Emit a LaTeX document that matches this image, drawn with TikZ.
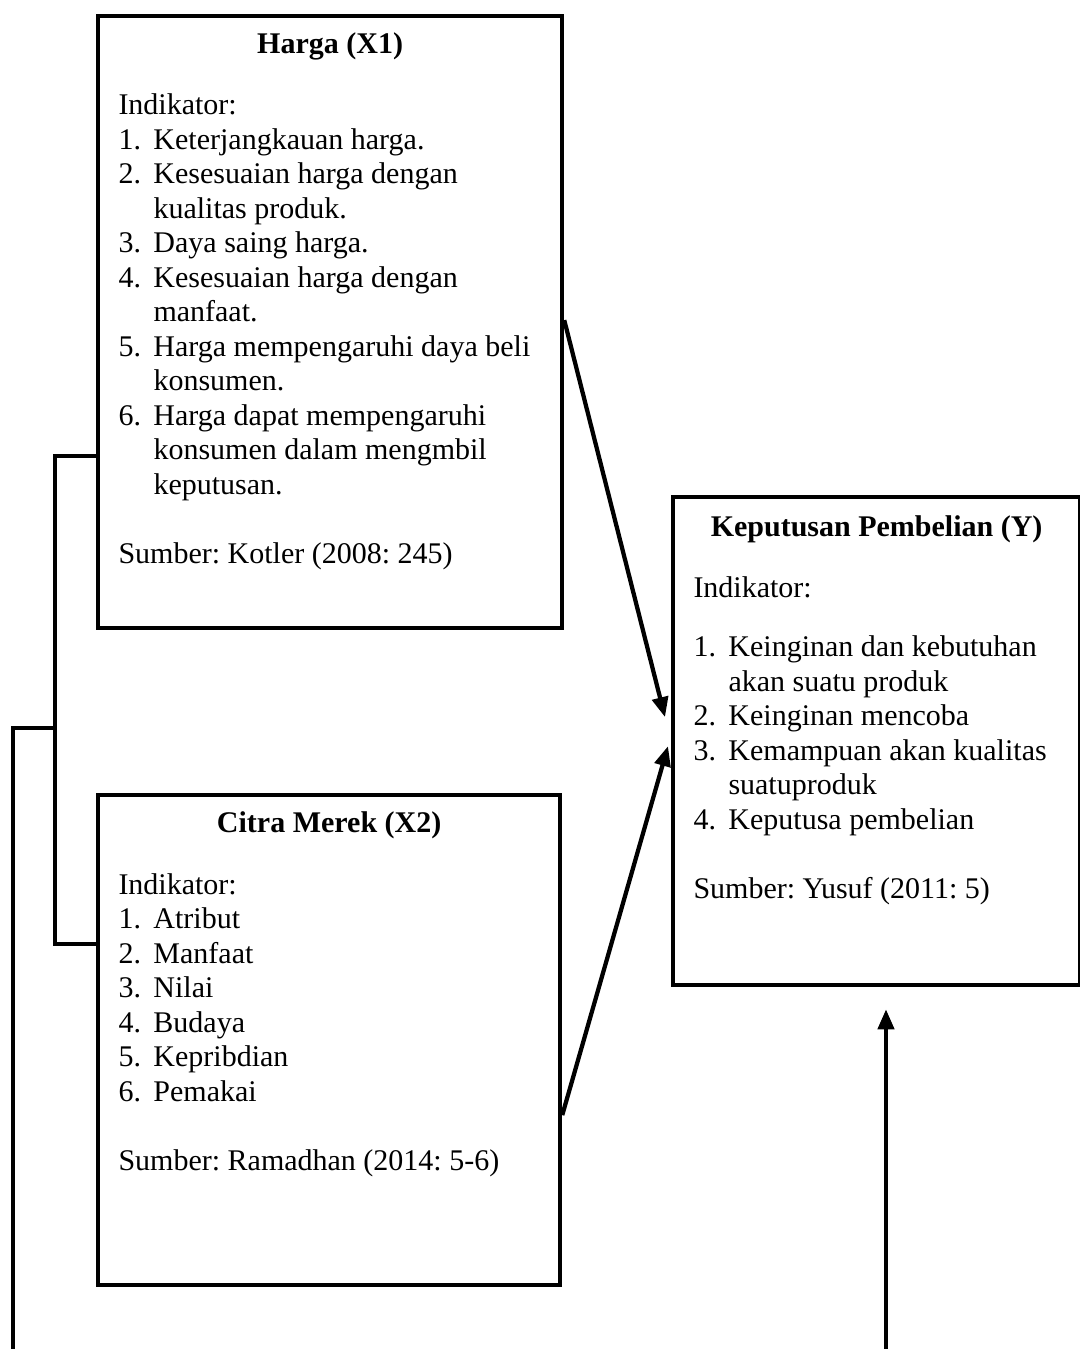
\documentclass[tikz,border=0pt]{standalone}
\usepackage{fontspec}
\setmainfont{Liberation Serif}
\usetikzlibrary{arrows.meta, positioning, calc}
\frenchspacing

\newcommand{\itm}[2]{\makebox[14pt][l]{#1.}#2}
\newcommand{\cont}[1]{\hspace*{14pt}#1}

\begin{document}
\begin{tikzpicture}[x=0.4pt, y=-0.4pt,
    box/.style={draw, line width=1.7pt, inner sep=0pt, anchor=north west},
    head/.style={font=\bfseries\fontsize{12}{13.8}\selectfont, inner sep=0pt, anchor=base},
    body/.style={font=\fontsize{12}{13.8}\selectfont, align=left, inner sep=0pt, anchor=base west},
    link/.style={line width=1.7pt},
    arr/.style={line width=1.7pt, -{Triangle[length=8pt, width=6.4pt]}}]
    \useasboundingbox (0,0) rectangle (1080,1349);

    % Box X1 (text node sits on its last line)
    \node[box, minimum width=185.6pt, minimum height=244.8pt] (harga) at (96,14) {};
    \node[head] (hargatitle) at ($(harga.north)+(0,39)$) {Harga (X1)};
    \node[body] (hargatext) at ($(harga.north west)+(22,549)$) {Indikator:\\
        \itm{1}{Keterjangkauan harga.}\\
        \itm{2}{Kesesuaian harga dengan}\\
        \cont{kualitas produk.}\\
        \itm{3}{Daya saing harga.}\\
        \itm{4}{Kesesuaian harga dengan}\\
        \cont{manfaat.}\\
        \itm{5}{Harga mempengaruhi daya beli}\\
        \cont{konsumen.}\\
        \itm{6}{Harga dapat mempengaruhi}\\
        \cont{konsumen dalam mengmbil}\\
        \cont{keputusan.}\\[13.8pt]
        Sumber: Kotler (2008: 245)};

    % Box X2
    \node[box, minimum width=184.8pt, minimum height=196pt] (citra) at (96,793) {};
    \node[head] (citratitle) at ($(citra.north)+(0,39)$) {Citra Merek (X2)};
    \node[body] (citratext) at ($(citra.north west)+(22,377)$) {Indikator:\\
        \itm{1}{Atribut}\\
        \itm{2}{Manfaat}\\
        \itm{3}{Nilai}\\
        \itm{4}{Budaya}\\
        \itm{5}{Kepribdian}\\
        \itm{6}{Pemakai}\\[13.8pt]
        Sumber: Ramadhan (2014: 5-6)};

    % Box Y
    \node[box, minimum width=162.8pt, minimum height=195.2pt] (keputusan) at (671,495) {};
    \node[head] (keputusantitle) at ($(keputusan.north)+(0,41)$) {Keputusan Pembelian (Y)};
    \node[body] (keputusantext) at ($(keputusan.north west)+(22,403)$) {Indikator:\\[9.9pt]
        \itm{1}{Keinginan dan kebutuhan}\\
        \cont{akan suatu produk}\\
        \itm{2}{Keinginan mencoba}\\
        \itm{3}{Kemampuan akan kualitas}\\
        \cont{suatuproduk}\\
        \itm{4}{Keputusa pembelian}\\[13.8pt]
        Sumber: Yusuf (2011: 5)};

    % Bracket on the left
    \coordinate (jn) at (55,728);
    \coordinate (lend) at (13,1349);
    \draw[link] ($(harga.west)+(0,134)$) -| (jn) |- ($(citra.west)+(0,-96)$);
    \draw[link] (jn) -| (lend);

    % Arrows into Y
    \draw[arr] ($(harga.east)+(0,-2)$) -- ($(keputusan.west)+(-6,-24)$);
    \draw[arr] ($(citra.east)+(0,75)$) -- ($(keputusan.west)+(-3,5)$);
    \coordinate (ytail) at (886,1349);
    \draw[arr] (ytail) -- ($(keputusan.south -| ytail)+(0,22)$);
\end{tikzpicture}
\end{document}
